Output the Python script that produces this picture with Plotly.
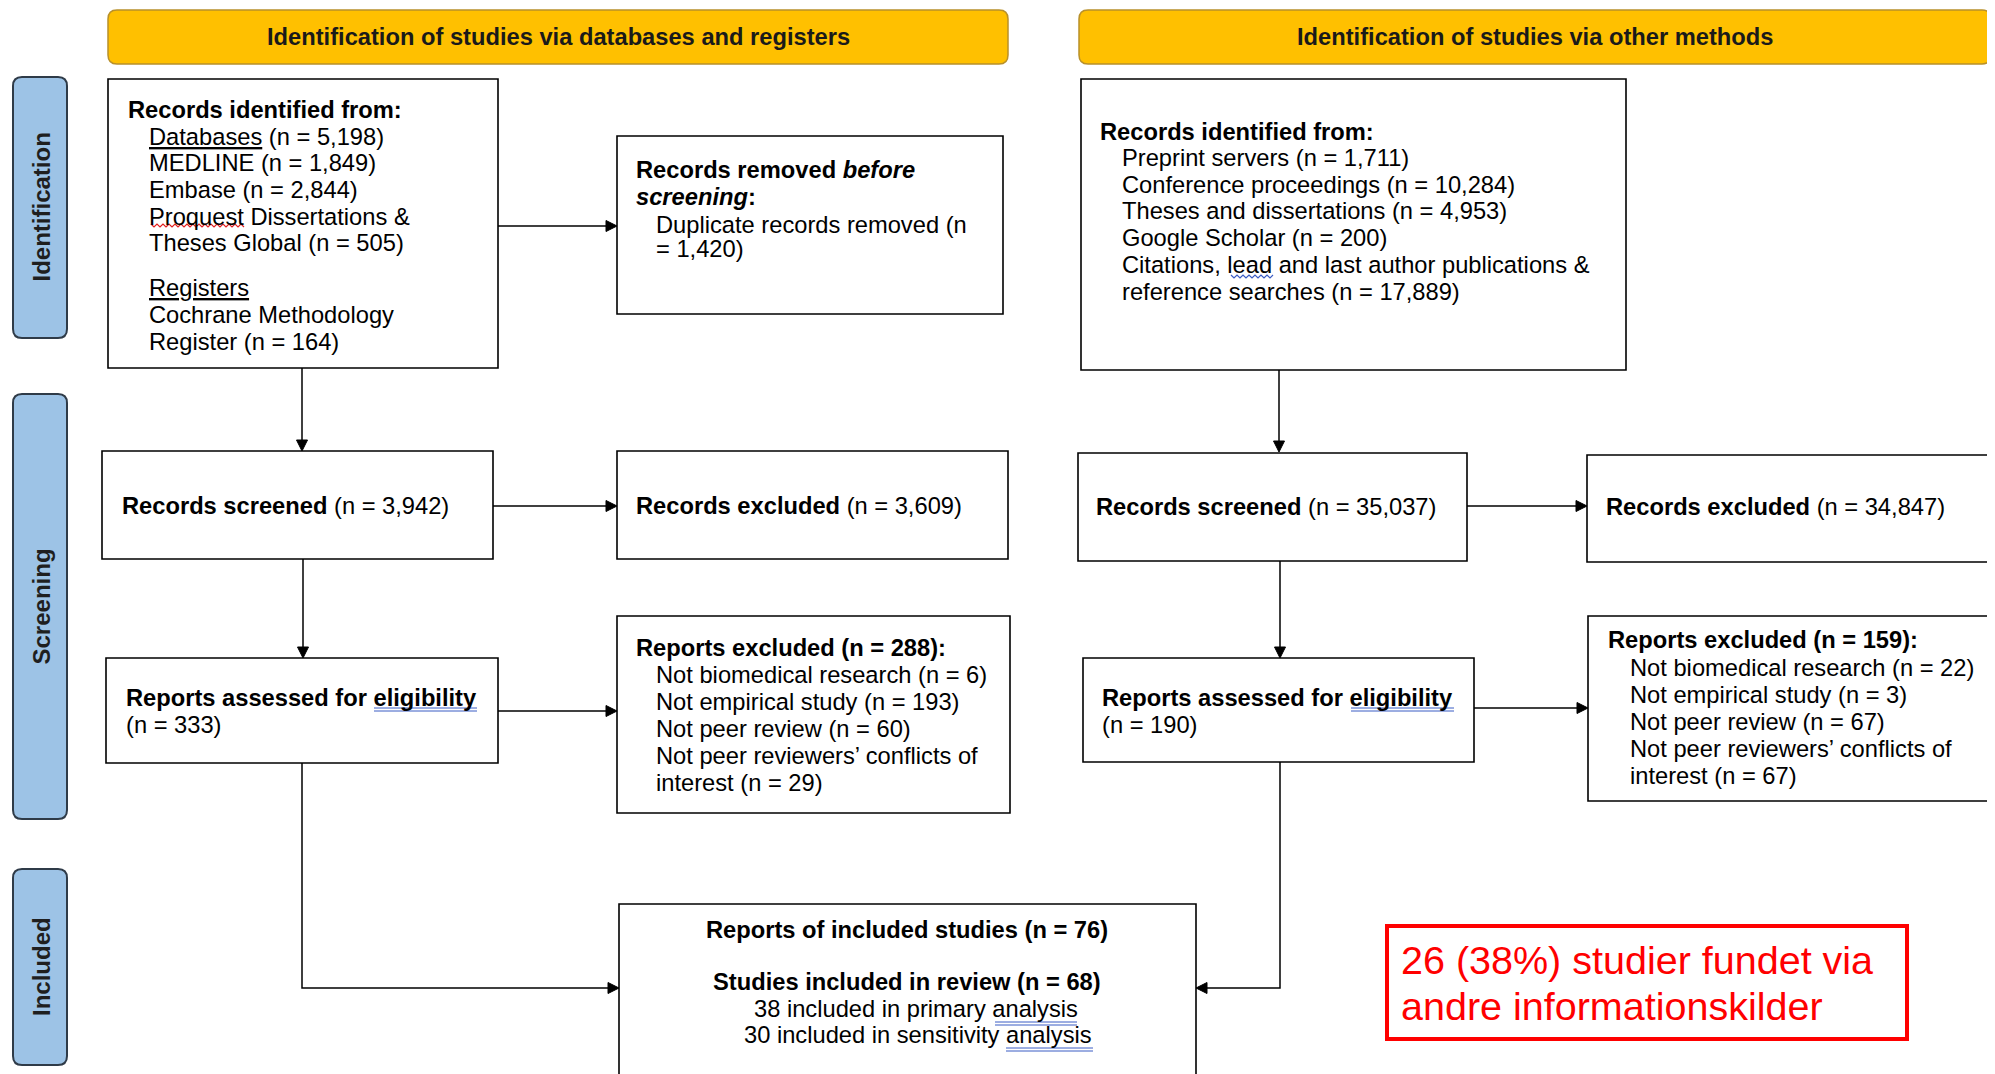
import math
import plotly.graph_objects as go

# ---------------- data ----------------
databases_n = 5198
medline_n = 1849
embase_n = 2844
proquest_n = 505
register_n = 164
duplicates_n = 1420

other_labels = ["Preprint servers", "Conference proceedings", "Theses and dissertations",
                "Google Scholar", "Citations, lead and last author publications &amp;",
                "reference searches"]
other_counts = [1711, 10284, 4953, 200, None, 17889]

screened_n = [3942, 35037]
records_excluded_n = [3609, 34847]
assessed_n = [333, 190]
reports_excluded_n = [288, 159]
excl_reasons = ["Not biomedical research", "Not empirical study", "Not peer review",
                "Not peer reviewers\u2019 conflicts of", "interest"]
excl_counts_db = [6, 193, 60, None, 29]
excl_counts_other = [22, 3, 67, None, 67]

included_reports_n = 76
included_studies_n = 68
primary_n = 38
sensitivity_n = 30
other_found_n = 26
other_found_pct = 38

phase_labels = ["Identification", "Screening", "Included"]
header_labels = ["Identification of studies via databases and registers",
                 "Identification of studies via other methods"]

# ---------------- helpers ----------------
W, H = 1995, 1074
OFF = 8  # page body margin
FONT = "Arial, 'Liberation Sans', sans-serif"
FS = 23.7
PAD = 4  # annotation inner padding compensation
shapes = []
annos = []


def fmt(label, n):
    return label if n is None else f"{label} (n = {n:,})"


def rect(x0, y0, x1, y1, lw=1.6, color="black", fill="white"):
    shapes.append(dict(type="rect", xref="x", yref="y", x0=x0, y0=y0, x1=x1, y1=y1,
                       line=dict(color=color, width=lw), fillcolor=fill, layer="above"))


def rrect(x0, y0, x1, y1, r, fill, color, lw):
    p = (f"M {x0+r},{y0} L {x1-r},{y0} Q {x1},{y0} {x1},{y0+r} L {x1},{y1-r} "
         f"Q {x1},{y1} {x1-r},{y1} L {x0+r},{y1} Q {x0},{y1} {x0},{y1-r} "
         f"L {x0},{y0+r} Q {x0},{y0} {x0+r},{y0} Z")
    shapes.append(dict(type="path", xref="x", yref="y", path=p, fillcolor=fill,
                       line=dict(color=color, width=lw), layer="above"))


def line(pts, color="black", lw=1.5):
    p = "M " + " L ".join(f"{x},{y}" for x, y in pts)
    shapes.append(dict(type="path", xref="x", yref="y", path=p,
                       line=dict(color=color, width=lw), layer="above"))


def arrow(pts, lw=1.5, hl=11, hw=5.5):
    (xa, ya), (xb, yb) = pts[-2], pts[-1]
    d = math.hypot(xb - xa, yb - ya)
    ux, uy = (xb - xa) / d, (yb - ya) / d
    bx, by = xb - ux * hl, yb - uy * hl
    line(list(pts[:-1]) + [(bx, by)], lw=lw)
    tri = (f"M {xb},{yb} L {bx - uy*hw},{by + ux*hw} L {bx + uy*hw},{by - ux*hw} Z")
    shapes.append(dict(type="path", xref="x", yref="y", path=tri, fillcolor="black",
                       line=dict(color="black", width=1), layer="above"))


def text(x, y, s, size=FS, color="black", anchor="left", angle=0):
    if anchor == "left":
        x -= PAD
    annos.append(dict(x=x, y=y, xref="x", yref="y", text=s, showarrow=False,
                      xanchor=anchor, yanchor="middle", textangle=angle,
                      font=dict(family=FONT, size=size, color=color)))


def spell(x0, x1, y, color="#3a5cc4"):
    line([(x0, y), (x1, y)], color=color, lw=1)
    line([(x0, y + 3), (x1, y + 3)], color=color, lw=1)


def wavy(x0, x1, y, color):
    pts, x, k = [], x0, 0
    while x <= x1:
        pts.append((x, y + (2 if k % 2 else -1)))
        x += 3
        k += 1
    line(pts, color=color, lw=1.2)


# ---------------- headers & phase pills ----------------
for (x0, x1), lab in zip([(108, 1008), (1079, 1991)], header_labels):
    rrect(x0, 10, x1, 64, 9, "#FFC000", "#B8902A", 1.5)
    text((x0 + x1) / 2, 37, f"<b>{lab}</b>", anchor="center", color="#1a1a1a")

for (y0, y1), lab in zip([(77, 338), (394, 819), (869, 1065)], phase_labels):
    rrect(13, y0, 67, y1, 9, "#9DC3E6", "#2F3B48", 2)
    text(41, (y0 + y1) / 2, f"<b>{lab}</b>", size=24, anchor="center",
         color="#1f1f1f", angle=-90)

# ---------------- connectors ----------------
arrow([(302, 368), (302, 451)])
arrow([(498, 226), (617, 226)])
arrow([(303, 559), (303, 658)])
arrow([(493, 506), (617, 506)])
arrow([(498, 711), (617, 711)])
arrow([(302, 763), (302, 988), (619, 988)])

arrow([(1279, 370), (1279, 452)])
arrow([(1467, 506), (1587, 506)])
arrow([(1280, 561), (1280, 658)])
arrow([(1474, 708), (1588, 708)])
arrow([(1280, 762), (1280, 988), (1196, 988)])

# ---------------- left column boxes ----------------
rect(108, 79, 498, 368)
box1 = [
    ("<b>Records identified from:</b>", 130, 110),
    (f"<u>Databases</u> (n = {databases_n:,})", 151, 137),
    (fmt("MEDLINE", medline_n), 151, 163),
    (fmt("Embase", embase_n), 151, 190),
    ("Proquest Dissertations &amp;", 151, 217),
    (fmt("Theses Global", proquest_n), 151, 243),
    ("<u>Registers</u>", 151, 288),
    ("Cochrane Methodology", 151, 315),
    (fmt("Register", register_n), 151, 342),
]
for s, x, y in box1:
    text(x, y, s)
wavy(151, 246, 225, "#e02020")

rect(617, 136, 1003, 314)
text(638, 170, "<b>Records removed <i>before</i></b>")
text(638, 197, "<b><i>screening</i>:</b>")
text(658, 225, "Duplicate records removed (n")
text(658, 249, f"= {duplicates_n:,})")

rect(102, 451, 493, 559)
text(124, 506, f"<b>Records screened</b> (n = {screened_n[0]:,})")
rect(617, 451, 1008, 559)
text(638, 506, f"<b>Records excluded</b> (n = {records_excluded_n[0]:,})")

rect(106, 658, 498, 763)
text(128, 698, "<b>Reports assessed for eligibility</b>")
text(128, 725, f"(n = {assessed_n[0]:,})")
spell(374, 477, 708)

rect(617, 616, 1010, 813)
text(638, 648, f"<b>Reports excluded (n = {reports_excluded_n[0]:,}):</b>")
for i, (lab, n) in enumerate(zip(excl_reasons, excl_counts_db)):
    text(658, 675 + i * 27, fmt(lab, n))

# ---------------- right column boxes ----------------
rect(1081, 79, 1626, 370)
text(1102, 132, "<b>Records identified from:</b>")
for i, (lab, n) in enumerate(zip(other_labels, other_counts)):
    text(1124, 158 + i * 26.7, fmt(lab, n))
wavy(1231, 1274, 276, "#3a5cc4")

rect(1078, 453, 1467, 561)
text(1098, 507, f"<b>Records screened</b> (n = {screened_n[1]:,})")
rect(1587, 455, 2010, 562)
text(1608, 507, f"<b>Records excluded</b> (n = {records_excluded_n[1]:,})")

rect(1083, 658, 1474, 762)
text(1104, 698, "<b>Reports assessed for eligibility</b>")
text(1104, 725, f"(n = {assessed_n[1]:,})")
spell(1351, 1454, 708)

rect(1588, 616, 2010, 801)
text(1610, 640, f"<b>Reports excluded (n = {reports_excluded_n[1]:,}):</b>")
for i, (lab, n) in enumerate(zip(excl_reasons, excl_counts_other)):
    text(1632, 668 + i * 27, fmt(lab, n))

# ---------------- included ----------------
rect(619, 904, 1196, 1100)
text(907, 930, f"<b>Reports of included studies (n = {included_reports_n})</b>", anchor="center")
text(907, 982, f"<b>Studies included in review (n = {included_studies_n})</b>", anchor="center")
text(916, 1009, f"{primary_n} included in primary analysis", anchor="center")
text(918, 1035, f"{sensitivity_n} included in sensitivity analysis", anchor="center")
spell(995, 1077, 1022)
spell(1006, 1093, 1048)

# ---------------- red note ----------------
rect(1387, 926, 1907, 1039, lw=4, color="#FF0000", fill="white")
text(1403, 960, f"{other_found_n} ({other_found_pct}%) studier fundet via", size=39.5, color="#FF0000")
text(1403, 1006, "andre informationskilder", size=39.5, color="#FF0000")

fig = go.Figure()
fig.add_trace(go.Scatter(x=[OFF, W], y=[OFF, H], mode="markers",
                         marker=dict(opacity=0), hoverinfo="skip", showlegend=False))
fig.update_layout(
    width=W - OFF, height=H - OFF, margin=dict(l=0, r=0, t=0, b=0),
    paper_bgcolor="white", plot_bgcolor="white",
    xaxis=dict(range=[OFF, W], visible=False, fixedrange=True),
    yaxis=dict(range=[H, OFF], visible=False, fixedrange=True),
    shapes=shapes, annotations=annos, showlegend=False,
)
fig.write_html("out.html")
